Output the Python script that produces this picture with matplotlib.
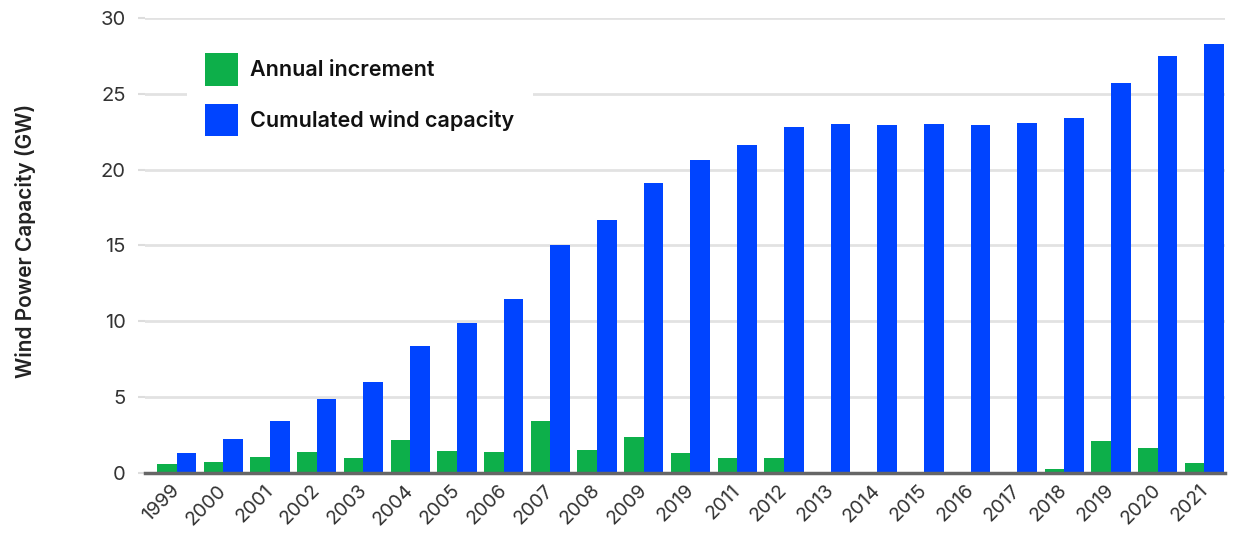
import matplotlib
matplotlib.use('Agg')
import matplotlib.pyplot as plt
import matplotlib.transforms as mtransforms
import numpy as np

plt.rcParams['font.family'] = ['Inter', 'DejaVu Sans']

# Values (GW)
years = ['1999', '2000', '2001', '2002', '2003', '2004', '2005', '2006', '2007', '2008', '2009',
         '2019', '2011', '2012', '2013', '2014', '2015', '2016', '2017', '2018', '2019', '2020', '2021']
annual = [0.6, 0.72, 1.05, 1.38, 0.99, 2.18, 1.45, 1.38, 3.43, 1.52, 2.37,
          1.32, 0.99, 0.99, 0, 0, 0, 0, 0, 0.26, 2.1, 1.65, 0.66]
cumulated = [1.32, 2.24, 3.43, 4.88, 6.0, 8.37, 9.89, 11.47, 15.03, 16.68, 19.12,
             20.63, 21.6, 22.8, 23.0, 22.94, 23.0, 22.94, 23.07, 23.4, 25.7, 27.5, 28.3]

green = '#0DAF4A'
blue = '#0044FF'

fig = plt.figure(figsize=(12.34, 5.44), dpi=100)
ax = fig.add_axes([0.1175, 0.1305, 0.8755, 0.8365])

x = np.arange(len(years))
w = 0.42
ax.bar(x - w / 2, annual, width=w, color=green, label='Annual increment', zorder=3)
ax.bar(x + w / 2, cumulated, width=w, color=blue, label='Cumulated wind capacity', zorder=3)

ax.set_xlim(-0.677, 22.45)
ax.set_ylim(0, 30)
ax.set_yticks(range(0, 31, 5))
ax.yaxis.grid(True, color='#e2e2e2', linewidth=2, zorder=0)
ax.set_axisbelow(True)

for s in ['top', 'right', 'left']:
    ax.spines[s].set_visible(False)
ax.spines['bottom'].set_color('#666666')
ax.spines['bottom'].set_linewidth(2.5)
ax.spines['bottom'].set_zorder(4)

ax.tick_params(axis='y', length=5, width=1.5, color='#dddddd', labelsize=14.5,
               labelcolor='#333333', pad=9)
ax.tick_params(axis='x', length=0, labelsize=14, labelcolor='#333333', pad=6)
ax.set_xticks(x)
ax.set_xticklabels(years, rotation=45, ha='right', rotation_mode='anchor')
shift = mtransforms.ScaledTranslation(-6 / 100, 0, fig.dpi_scale_trans)
for lab in ax.get_xticklabels():
    lab.set_transform(lab.get_transform() + shift)

ax.set_ylabel('Wind Power Capacity (GW)', fontsize=15, fontweight='semibold', color='#222222')
ax.yaxis.set_label_coords(-0.101, 0.51)

leg = ax.legend(loc='upper left', bbox_to_anchor=(187 / 1234, 1 - 35 / 544), bbox_transform=fig.transFigure,
                frameon=True, fancybox=False, edgecolor='white', facecolor='white', framealpha=1,
                fontsize=15.5, handlelength=1.53, handleheight=1.95, labelspacing=0.83,
                handletextpad=0.55, borderpad=0.85, borderaxespad=0)
leg.get_frame().set_linewidth(0)
for t in leg.get_texts():
    t.set_fontweight('semibold')
    t.set_color('#111111')
leg.set_zorder(5)

fig.savefig('out.png', dpi=100, facecolor='white')
